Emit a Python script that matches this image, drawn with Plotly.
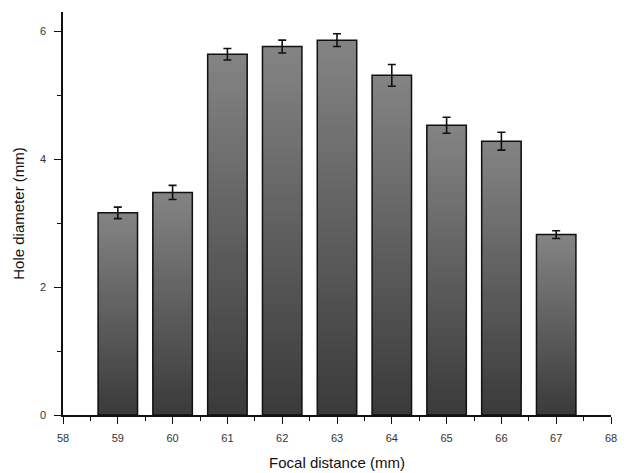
import plotly.graph_objects as go

focal = [59, 60, 61, 62, 63, 64, 65, 66, 67]
diameter = [3.16, 3.48, 5.64, 5.76, 5.86, 5.31, 4.53, 4.28, 2.82]
err = [0.09, 0.11, 0.09, 0.10, 0.10, 0.17, 0.125, 0.14, 0.06]

x_ticks = list(range(58, 69))
y_ticks = [0, 2, 4, 6]

N = 40
top_rgb = (132, 132, 132)
bot_rgb = (58, 58, 58)
bar_w = 0.72

fig = go.Figure()
# gradient fill: each slice spans from its base to the bar top; later slices cover earlier ones
for i in range(N):
    t = (i + 0.5) / N
    c = tuple(int(round(bot_rgb[k] + (top_rgb[k] - bot_rgb[k]) * t)) for k in range(3))
    fig.add_trace(go.Bar(
        x=focal,
        y=[v * (N - i) / N for v in diameter],
        base=[v * i / N for v in diameter],
        width=bar_w,
        marker=dict(color="rgb(%d,%d,%d)" % c, line=dict(width=0)),
        showlegend=False, hoverinfo="skip",
    ))
# outline + error bars
fig.add_trace(go.Bar(
    x=focal, y=diameter, width=bar_w,
    marker=dict(color="rgba(0,0,0,0)", line=dict(color="#111111", width=1.5)),
    error_y=dict(type="data", array=err, visible=True, color="#111111", thickness=1.6, width=4),
    showlegend=False,
))

tickfont = dict(family="Liberation Sans, Arial, sans-serif", size=11, color="#333333")
titlefont = dict(family="Liberation Sans, Arial, sans-serif", size=15, color="#111111")
fig.update_layout(
    width=626, height=473,
    margin=dict(l=63, r=15, t=12, b=58),
    paper_bgcolor="white", plot_bgcolor="white",
    barmode="overlay",
    xaxis=dict(
        range=[58, 68], tickvals=x_ticks, ticktext=[str(v) for v in x_ticks],
        showgrid=False, zeroline=False, showline=True, linecolor="#111111", linewidth=1.5,
        ticks="outside", ticklen=7, tickwidth=1.3, tickcolor="#111111",
        minor=dict(dtick=0.5, ticks="outside", ticklen=4, tickwidth=1.2, tickcolor="#111111"),
        tickfont=tickfont, ticklabelstandoff=5, automargin=False,
        title=dict(text="Focal distance (mm)", font=titlefont, standoff=15),
    ),
    yaxis=dict(
        range=[0, 6.3], tickvals=y_ticks,
        showgrid=False, zeroline=False, showline=True, linecolor="#111111", linewidth=1.5,
        ticks="outside", ticklen=7, tickwidth=1.3, tickcolor="#111111",
        minor=dict(dtick=1, ticks="outside", ticklen=4, tickwidth=1.2, tickcolor="#111111"),
        tickfont=tickfont, ticklabelstandoff=6, automargin=False,
        title=dict(text="Hole diameter (mm)", font=titlefont, standoff=12),
    ),
)
fig.write_html("out.html")
